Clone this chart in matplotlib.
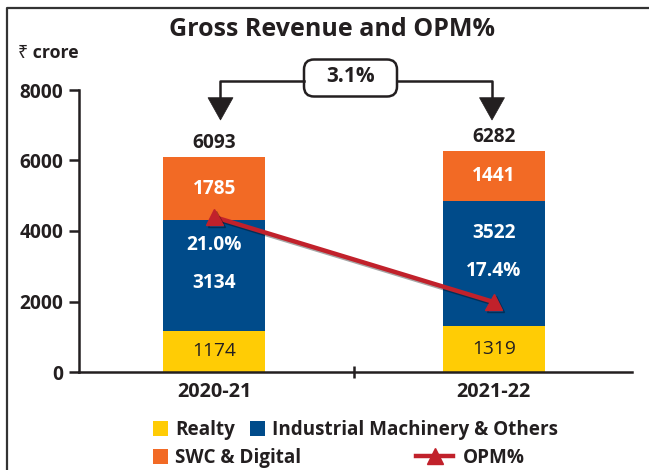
import matplotlib
matplotlib.use('Agg')
import numpy as np
import matplotlib.pyplot as plt
from matplotlib.patches import Patch, FancyBboxPatch, Polygon
from matplotlib.lines import Line2D
from matplotlib.transforms import Affine2D
import matplotlib.patheffects as pe

# ---------------- data ----------------
categories = ['2020-21', '2021-22']
realty = [1174, 1319]
industrial = [3134, 3522]
swc_digital = [1785, 1441]
totals = [6093, 6282]
opm = [21.0, 17.4]
growth_label = '3.1%'
y_ticks = [0, 2000, 4000, 6000, 8000]
series_names = ['Realty', 'Industrial Machinery & Others', 'SWC & Digital', 'OPM%']

# ---------------- style ----------------
YEL = '#FFCC05'
BLUE = '#004B8A'
ORANGE = '#F26A25'
RED = '#C1212B'
DARK = '#231F20'

plt.rcParams['font.family'] = ['Open Sans', 'Noto Sans', 'DejaVu Sans']

W, H = 649, 470
fig = plt.figure(figsize=(W / 100, H / 100), dpi=100)
ax = fig.add_axes([79 / W, 1 - 372 / H, (632 - 79) / W, (372 - 90) / H])

x = np.arange(len(categories))
bw = 0.366
r = np.array(realty)
ind = np.array(industrial)
swc = np.array(swc_digital)

ax.bar(x, r, bw, color=YEL, zorder=2)
ax.bar(x, ind, bw, bottom=r, color=BLUE, zorder=2)
ax.bar(x, swc, bw, bottom=r + ind, color=ORANGE, zorder=2)

ax.set_xlim(-0.484, 1.495)
ax.set_ylim(0, 8000)

for s in ['top', 'right']:
    ax.spines[s].set_visible(False)
for s in ['left', 'bottom']:
    ax.spines[s].set_linewidth(1.8)
    ax.spines[s].set_color(DARK)
    ax.spines[s].set_zorder(5)

LBL = 13.8
ax.set_yticks(y_ticks)
ax.set_yticklabels([str(v) for v in y_ticks], fontsize=LBL, fontweight='bold', color=DARK)
ax.tick_params(axis='y', direction='out', length=7.2, width=1.8, color=DARK, pad=4)

ax.set_xticks([0.5])
ax.set_xticklabels([''])
ax.tick_params(axis='x', which='major', direction='inout', length=8.6, width=1.8, color=DARK)
ax.set_xticks(x, minor=True)
ax.set_xticklabels(categories, minor=True, fontsize=14.3, fontweight='bold', color=DARK)
ax.tick_params(axis='x', which='minor', length=0, pad=7)

# segment labels
for i in range(len(categories)):
    ax.text(x[i], r[i] / 2, str(realty[i]), ha='center', va='center',
            fontsize=LBL, color=DARK, zorder=6)
    ax.text(x[i], r[i] + ind[i] + swc[i] / 2, str(swc_digital[i]), ha='center', va='center',
            fontsize=LBL, fontweight='bold', color='white', zorder=6)
    mid = r[i] + ind[i] / 2
    upper, lower = (f'{opm[i]:.1f}%', str(industrial[i])) if i == 0 else (str(industrial[i]), f'{opm[i]:.1f}%')
    ax.annotate(upper, (x[i], mid), xytext=(0, 22), textcoords='offset points',
                ha='center', va='center', fontsize=LBL, fontweight='bold', color='white', zorder=6)
    ax.annotate(lower, (x[i], mid), xytext=(0, -5.5), textcoords='offset points',
                ha='center', va='center', fontsize=LBL, fontweight='bold', color='white', zorder=6)
    ax.annotate(str(totals[i]), (x[i], totals[i]), xytext=(0, 10), textcoords='offset points',
                ha='center', va='center', fontsize=LBL, fontweight='bold', color=DARK, zorder=6)

# OPM line on hidden secondary scale
ax2 = ax.twinx()
ax2.set_ylim(14.435, 26.38)
ax2.axis('off')
ax2.plot(x, opm, color=RED, lw=3.2, marker='^', ms=12, zorder=7,
         path_effects=[pe.SimpleLineShadow(offset=(1.5, -1.5), shadow_color='k', alpha=0.35), pe.Normal()])

# ---------------- decorations in pixel coords (top-left origin) ----------------
T = Affine2D().scale(1 / W, -1 / H).translate(0, 1) + fig.transFigure

fig.add_artist(Line2D([7, 7, W + 5], [H + 5, 8, 8], transform=T, color='#333333', lw=1.6))

fig.text(332 / W, 1 - 29 / H, 'Gross Revenue and OPM%', ha='center', va='center',
         fontsize=18, fontweight='bold', color=DARK)
fig.text(18 / W, 1 - 53 / H, '₹ crore', ha='left', va='center',
         fontsize=12.8, fontweight='bold', color=DARK)

ly = 80.7
fig.add_artist(Line2D([220, 220, 304], [99, ly, ly], transform=T, color=DARK, lw=1.8))
fig.add_artist(Line2D([397, 492, 492], [ly, ly, 99], transform=T, color=DARK, lw=1.8))
fig.add_artist(Polygon([(208, 97.7), (233, 97.7), (220.5, 120)], closed=True, transform=T,
                       facecolor=DARK, edgecolor=DARK, lw=0.5))
fig.add_artist(Polygon([(479.5, 97.7), (504.5, 97.7), (492, 120)], closed=True, transform=T,
                       facecolor=DARK, edgecolor=DARK, lw=0.5))
fig.add_artist(FancyBboxPatch((304, 59.5), 93, 37, boxstyle='round,pad=0,rounding_size=10',
                              transform=T, facecolor='white', edgecolor=DARK, lw=1.8))
fig.text(350.5 / W, 1 - 77 / H, growth_label, ha='center', va='center',
         fontsize=15, fontweight='bold', color=DARK)

# ---------------- legends ----------------
fs = 13.6
h_real = Patch(facecolor=YEL, edgecolor='none')
h_ind = Patch(facecolor=BLUE, edgecolor='none')
h_swc = Patch(facecolor=ORANGE, edgecolor='none')
h_opm = Line2D([], [], color=RED, lw=3.2, marker='^', ms=12)

fs_px = fs * 100 / 72
common = dict(frameon=False, borderpad=0, borderaxespad=0, loc='center left',
              prop={'size': fs, 'weight': 'bold'}, labelcolor=DARK)
leg1 = fig.legend([h_real, h_ind], series_names[:2], ncol=2,
                  bbox_to_anchor=(153 / W, 1 - 430 / H), handlelength=15 / fs_px, handleheight=15 / fs_px,
                  handletextpad=7 / fs_px, columnspacing=15 / fs_px, **common)
leg2 = fig.legend([h_swc], [series_names[2]], bbox_to_anchor=(153 / W, 1 - 458 / H),
                  handlelength=15 / fs_px, handleheight=15 / fs_px, handletextpad=7 / fs_px, **common)
leg3 = fig.legend([h_opm], [series_names[3]], bbox_to_anchor=(416 / W, 1 - 458 / H),
                  handlelength=37 / fs_px, handletextpad=10 / fs_px, numpoints=1, **common)

fig.savefig('out.png', dpi=100)
